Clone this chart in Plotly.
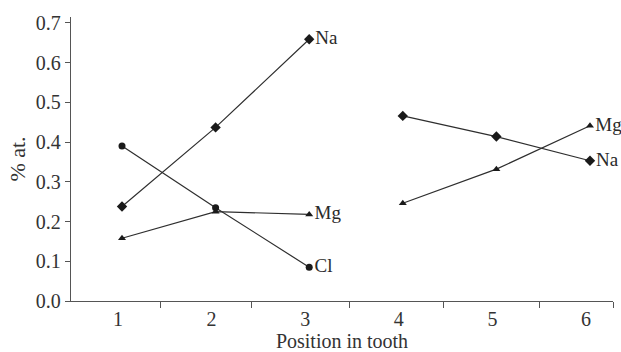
import plotly.graph_objects as go

positions_a = [1, 2, 3]
positions_b = [4, 5, 6]
na_a = [0.238, 0.437, 0.659]
cl_a = [0.390, 0.235, 0.085]
mg_a = [0.158, 0.225, 0.218]
na_b = [0.466, 0.414, 0.353]
mg_b = [0.246, 0.332, 0.441]
tick_labels = ["1", "2", "3", "4", "5", "6"]
y_ticks = [0.0, 0.1, 0.2, 0.3, 0.4, 0.5, 0.6, 0.7]

FONT = "Liberation Serif, Times New Roman, serif"
LINE = "#2e2e2e"

def series(x, y, name, symbol, size):
    labels = [""] * (len(x) - 1) + [name]
    return go.Scatter(
        x=x, y=y, mode="lines+markers+text", name=name,
        text=labels, textposition="middle right",
        textfont=dict(family=FONT, size=19, color="#2a2a2a"),
        line=dict(color=LINE, width=1.2),
        marker=dict(symbol=symbol, size=size, color="#1a1a1a"),
        cliponaxis=False, showlegend=False,
    )

fig = go.Figure()
fig.add_trace(series(positions_a, na_a, "Na", "diamond", 8))
fig.add_trace(series(positions_a, cl_a, "Cl", "circle", 7))
fig.add_trace(series(positions_a, mg_a, "Mg", "triangle-up", 7))
fig.add_trace(series(positions_b, na_b, "Na", "diamond", 8))
fig.add_trace(series(positions_b, mg_b, "Mg", "triangle-up", 7))

fig.update_layout(
    width=621, height=352,
    margin=dict(l=71, r=8, t=17, b=51),
    paper_bgcolor="white", plot_bgcolor="white",
    font=dict(family=FONT, size=20, color="#333"),
    xaxis=dict(
        range=[0.455, 6.246],
        tickmode="array", tickvals=[1, 2, 3, 4, 5, 6], ticktext=tick_labels,
        ticks="", ticklabelshift=-4,
        showgrid=False, zeroline=False, automargin=False,
        showline=True, linecolor="#555", linewidth=1.3,
        minor=dict(tickmode="array", tickvals=[1.41, 2.38, 3.43, 4.43, 5.46, 6.246],
                   ticks="outside", ticklen=6, tickcolor="#555", tickwidth=1.3, showgrid=False),
        title=dict(text="Position in tooth", font=dict(size=20), standoff=2),
        tickfont=dict(size=20),
    ),
    yaxis=dict(
        range=[0, 0.715],
        tickmode="array", tickvals=y_ticks, tickformat=".1f",
        ticks="outside", ticklen=5, tickcolor="#555", tickwidth=1.3,
        showgrid=False, zeroline=False, automargin=False,
        showline=True, linecolor="#555", linewidth=1.3,
        title=dict(text="% at.", font=dict(size=22), standoff=4),
        tickfont=dict(size=20),
    ),
)

fig.write_html(
    "out.html",
    config={"displayModeBar": False},
    post_script="document.body.style.margin='0';document.body.style.overflow='hidden';",
)
